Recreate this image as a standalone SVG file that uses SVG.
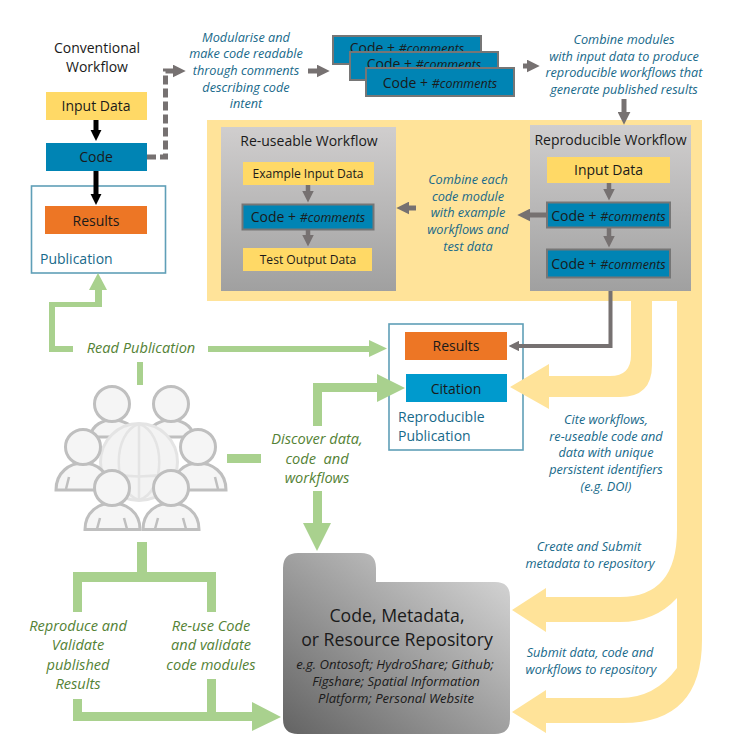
<svg xmlns="http://www.w3.org/2000/svg" width="729" height="749" viewBox="0 0 729 749">
<style>
text{font-family:"Open Sans","Noto Sans","Liberation Sans",sans-serif;text-anchor:middle;fill:#1a1a1a}
.t14{font-size:14px}.t13{font-size:12.1px}
.note{font-size:12.7px;font-style:italic;fill:#17698a}
.gn{font-size:14.6px;font-style:italic;fill:#548235}
.ltext{font-size:14px;fill:#17698a;text-anchor:start}
.y{fill:#ffd966}.b{fill:#0084b4;stroke:#767676;stroke-width:2}.o{fill:#ed7625}
.pub{fill:#fff;stroke:#5f9fb7;stroke-width:1.6}
.i{font-style:italic}
.ga{fill:none;stroke:#767171;stroke-width:5}
.gr{fill:#a9d18e}.ye{fill:#ffe399}
.p{fill:#f5f5f5;stroke:#bfbfbf;stroke-width:3}
.gl{fill:none;stroke:#e4e4e4;stroke-width:2.5}
</style>
<defs>
<linearGradient id="pg" x1="0" y1="0" x2="0" y2="1"><stop offset="0" stop-color="#d0cece"/><stop offset="1" stop-color="#a0a0a0"/></linearGradient>
<linearGradient id="rg" x1="0" y1="1" x2="1" y2="0"><stop offset="0" stop-color="#636363"/><stop offset="1" stop-color="#dcdcdc"/></linearGradient>
<marker id="gh" viewBox="0 0 10 10" refX="1" refY="5" markerWidth="2.6" markerHeight="2.6" orient="auto"><polygon points="0,0 10,5 0,10" fill="#767171"/></marker>
<marker id="kh" viewBox="0 0 10 10" refX="1" refY="5" markerWidth="2.2" markerHeight="2.4" orient="auto"><polygon points="0,0 10,5 0,10" fill="#000"/></marker>
</defs>

<rect id="yellow-band" class="ye" x="207" y="120" width="495" height="181"/>

<g id="conventional-title">
<text class="t14" x="97" y="52.500">Conventional</text>
<text class="t14" x="97" y="72">Workflow</text>
</g>
<g id="input-data"><rect class="y" x="46" y="92" width="101" height="28"/><text class="t14" x="96" y="111">Input Data</text></g>
<g id="code"><rect fill="#0084b4" x="46" y="143" width="101" height="28"/><text class="t14" x="96" y="162">Code</text></g>
<g id="publication"><rect class="pub" x="31.500" y="186" width="134" height="87"/><rect class="o" x="45" y="206" width="102" height="28"/><text class="t14" x="96" y="226">Results</text><text class="ltext" x="40" y="264">Publication</text></g>

<g id="note-modularise">
<text class="note" x="246" y="41.500">Modularise and</text>
<text class="note" x="246" y="58">make code readable</text>
<text class="note" x="246" y="75">through comments</text>
<text class="note" x="246" y="91.500">describing code</text>
<text class="note" x="246" y="108">intent</text>
</g>

<g id="code-stack">
<g><rect class="b" x="333" y="36" width="148" height="28"/><text class="t14" x="407" y="53">Code + <tspan class="i" font-size="12.500">#comments</tspan></text></g>
<g><rect class="b" x="350" y="52" width="148" height="28"/><text class="t14" x="424" y="69">Code + <tspan class="i" font-size="12.500">#comments</tspan></text></g>
<g><rect class="b" x="366" y="68" width="148" height="28"/><text class="t14" x="440" y="88">Code + <tspan class="i" font-size="12.500">#comments</tspan></text></g>
</g>

<g id="note-combine">
<text class="note" x="624" y="44">Combine modules</text>
<text class="note" x="624" y="61">with input data to produce</text>
<text class="note" x="624" y="77">reproducible workflows that</text>
<text class="note" x="624" y="94">generate published results</text>
</g>

<g id="reuseable-workflow">
<rect fill="url(#pg)" x="221" y="127" width="175" height="164"/>
<text class="t14" x="309" y="146">Re-useable Workflow</text>
<rect class="y" x="243" y="162" width="131" height="23"/><text class="t13" x="308" y="178">Example Input Data</text>
<rect class="b" x="242.500" y="204.500" width="131" height="25"/><text class="t14" x="308" y="222">Code + <tspan class="i" font-size="12.500">#comments</tspan></text>
<rect class="y" x="243" y="248" width="129" height="23"/><text class="t13" x="308" y="264">Test Output Data</text>
<line class="ga" x1="308" y1="185" x2="308" y2="192" marker-end="url(#gh)" style="stroke-width:4.500"/>
<line class="ga" x1="308" y1="229" x2="308" y2="236" marker-end="url(#gh)" style="stroke-width:4.500"/>
</g>

<g id="reproducible-workflow">
<rect fill="url(#pg)" x="530" y="125" width="161" height="166"/>
<text class="t14" x="610.500" y="145">Reproducible Workflow</text>
<rect class="y" x="547" y="157" width="123" height="26"/><text class="t14" x="608.500" y="175">Input Data</text>
<rect class="b" x="547" y="202.500" width="123" height="25"/><text class="t14" x="608.500" y="221">Code + <tspan class="i" font-size="12.500">#comments</tspan></text>
<rect class="b" x="547" y="249.500" width="123" height="28"/><text class="t14" x="608.500" y="269">Code + <tspan class="i" font-size="12.500">#comments</tspan></text>
<line class="ga" x1="609" y1="183" x2="609" y2="190" marker-end="url(#gh)" style="stroke-width:4.500"/>
<line class="ga" x1="609" y1="228" x2="609" y2="237" marker-end="url(#gh)" style="stroke-width:4.500"/>
</g>

<g id="note-combine-each">
<text class="note" x="468" y="184">Combine each</text>
<text class="note" x="468" y="201">code module</text>
<text class="note" x="468" y="217">with example</text>
<text class="note" x="468" y="234">workflows and</text>
<text class="note" x="468" y="251">test data</text>
</g>

<g id="reproducible-publication">
<rect class="pub" x="389" y="324" width="134" height="126"/>
<rect class="o" x="405" y="332" width="102" height="28"/><text class="t14" x="456" y="351">Results</text>
<rect fill="#009acd" x="406" y="374" width="101" height="28"/><text class="t14" x="456" y="394">Citation</text>
<text class="ltext" x="398" y="422">Reproducible</text>
<text class="ltext" x="398" y="441">Publication</text>
</g>

<g id="note-cite">
<text class="note" x="606" y="424">Cite workflows,</text>
<text class="note" x="606" y="441">re-useable code and</text>
<text class="note" x="606" y="457">data with unique</text>
<text class="note" x="606" y="474">persistent identifiers</text>
<text class="note" x="606" y="491">(e.g. DOI)</text>
</g>
<g id="note-create">
<text class="note" x="589" y="551">Create and Submit</text>
<text class="note" x="590" y="568">metadata to repository</text>
</g>
<g id="note-submit">
<text class="note" x="590" y="657">Submit data, code and</text>
<text class="note" x="591" y="674">workflows to repository</text>
</g>

<g id="people">
<path class="p" d="M90 437C92 424 104 420 112 420C122 420 134 424 138 437Z"/>
<path class="p" d="M146 437C150 424 162 420 171 420C180 420 192 424 194 437Z"/>
<circle class="p" cx="112" cy="404" r="17.500"/>
<circle class="p" cx="171" cy="404" r="17.500"/>
<circle cx="139" cy="462" r="38.500" fill="#f3f3f3" stroke="#e4e4e4" stroke-width="3"/>
<path class="gl" d="M139 424V500M103 473Q139 480 175 473M139 424C112 432 112 492 139 500M139 424C166 432 166 492 139 500"/>
<path class="p" d="M56 490C56 472 70 463 83 463C96 463 110 472 110 490Z"/>
<path class="p" d="M172 490C172 472 186 463 198 463C212 463 226 472 226 490Z"/>
<path class="gl" style="stroke:#bfbfbf" d="M69 477L66 489M215 477L218 489"/>
<circle class="p" cx="83" cy="447" r="17.500"/>
<circle class="p" cx="198" cy="447" r="17.500"/>
<path class="p" d="M85 529.500C85 512 99 503 112 503C126 503 140 512 140 529.500Z"/>
<path class="p" d="M143 529.500C143 512 157 503 171 503C185 503 199 512 199 529.500Z"/>
<path class="gl" style="stroke:#bfbfbf" d="M100 518L97 529M124 518L127 529M158 518L155 529M183 518L186 529"/>
<circle class="p" cx="112" cy="488" r="17.500"/>
<circle class="p" cx="171" cy="488" r="17.500"/>
</g>

<g id="repository">
<path fill="url(#rg)" d="M298 553H361Q376 553 376 568V582H495Q510 582 510 597V719Q510 734 495 734H298Q283 734 283 719V568Q283 553 298 553Z"/>
<text x="397" y="622" font-size="17.700px">Code, Metadata,</text>
<text x="397" y="646" font-size="17.700px">or Resource Repository</text>
<text class="i" x="395" y="669" font-size="13.100px">e.g. Ontosoft; HydroShare; Github;</text>
<text class="i" x="396" y="686" font-size="13.100px">Figshare; Spatial Information</text>
<text class="i" x="396" y="703" font-size="13.100px">Platform; Personal Website</text>
</g>

<g id="connectors">
<path class="ye" d="M631 300H652V365Q652 397 620 397H549V409L510 387L549 364V376H610Q631 376 631 355Z"/>
<path class="ye" d="M677 300H702V640Q702 723 623 723H546V733L512 712L546 690V698H620Q655 698 677 668V598Q655 622 620 622H546V632L512 610L546 588V597H620Q677 597 677 530Z"/>
<g fill="none" stroke="#000" stroke-width="5" id="black-arrows">
<line x1="96" y1="120" x2="96" y2="131" marker-end="url(#kh)"/>
<line x1="96" y1="171" x2="96" y2="195" marker-end="url(#kh)"/>
</g>
<path class="ga" d="M147 157H165.500V71H174" stroke-dasharray="9 4" marker-end="url(#gh)"/>
<line class="ga" x1="308" y1="71" x2="318" y2="71" marker-end="url(#gh)"/>
<line class="ga" x1="523" y1="66" x2="528" y2="66" marker-end="url(#gh)"/>
<line class="ga" x1="624" y1="99" x2="624" y2="113" marker-end="url(#gh)"/>
<line class="ga" x1="547" y1="215" x2="529" y2="215" marker-end="url(#gh)"/>
<line class="ga" x1="416" y1="208" x2="408" y2="208" marker-end="url(#gh)"/>
<path fill="none" stroke="#767171" stroke-width="4" d="M610.500 291V346H518" marker-end="url(#gh)"/>
<path class="gr" d="M49 352V302H95V290H89L98 273L107 290H102V307H55V346H73V352Z"/>
<path class="gr" d="M208 346H369V340L387 348.500L369 357V352H208Z"/>
<rect class="gr" x="137" y="362" width="6" height="23"/>
<path class="gr" d="M313 426V383H377V374L405 388L377 402V392H322V426Z"/>
<rect class="gr" x="227" y="454" width="34" height="9"/>
<path class="gr" d="M313 491H322V523H331L317 551L303 523H313Z"/>
<path class="gr" d="M137 542H147V572H216V612H207V582H82V612H73V572H137Z"/>
<path class="gr" d="M73 699H82V712H207V679H216V712H252V702L281 717L252 731V721H73Z"/>
</g>

<g id="actions">
<text class="gn" x="141" y="353">Read Publication</text>
<text class="gn" x="317" y="444">Discover data,</text>
<text class="gn" x="317" y="464" xml:space="preserve">code  and</text>
<text class="gn" x="317" y="483">workflows</text>
<text class="gn" x="78" y="631">Reproduce and</text>
<text class="gn" x="78" y="650">Validate</text>
<text class="gn" x="78" y="670">published</text>
<text class="gn" x="78" y="689">Results</text>
<text class="gn" x="211" y="631">Re-use Code</text>
<text class="gn" x="211" y="650">and validate</text>
<text class="gn" x="211" y="670">code modules</text>
</g>
</svg>
